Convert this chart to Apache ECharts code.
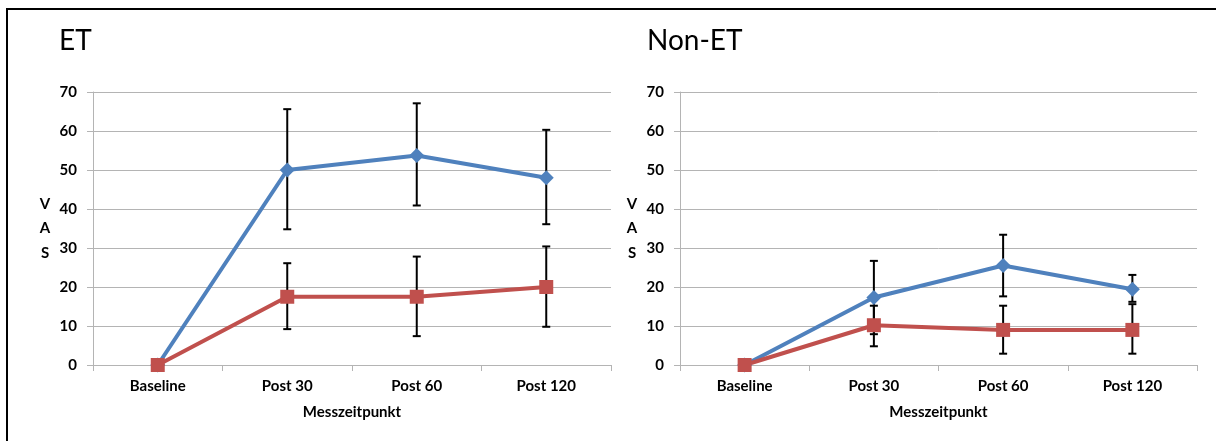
<!DOCTYPE html>
<html>
<head>
<meta charset="utf-8">
<script src="https://cdn.jsdelivr.net/npm/echarts@6/dist/echarts.min.js"></script>
<style>
  html, body { margin: 0; padding: 0; background: #fff; }
  #chart { width: 1216px; height: 441px; }
</style>
</head>
<body>
<div id="chart"></div>
<script>
const categories = ["Baseline", "Post 30", "Post 60", "Post 120"];
const yTicks = [0, 10, 20, 30, 40, 50, 60, 70];

// ET panel
const etBlue = [0, 50, 53.7, 48];
const etBlueLow = [null, 34.8, 40.9, 36.1];
const etBlueHigh = [null, 65.6, 67.1, 60.3];
const etRed = [0, 17.5, 17.5, 20];
const etRedLow = [null, 9.2, 7.4, 9.8];
const etRedHigh = [null, 26.1, 27.8, 30.4];

// Non-ET panel
const nonBlue = [0, 17.3, 25.5, 19.4];
const nonBlueLow = [null, 7.9, 17.6, 16.2];
const nonBlueHigh = [null, 26.7, 33.4, 23.1];
const nonRed = [0, 10.2, 9.0, 9.0];
const nonRedLow = [null, 4.8, 2.9, 2.9];
const nonRedHigh = [null, 15.2, 15.2, 15.6];

const FONT = "Lato";
const BLUE = "#4F81BD";
const RED = "#C0504D";
const GRID_GREY = "#B4B4B4";

function errorBars(low, high, axisIdx) {
  const data = [];
  low.forEach((lo, i) => {
    if (lo != null) data.push([i, lo, high[i]]);
  });
  return {
    type: "custom",
    xAxisIndex: axisIdx,
    yAxisIndex: axisIdx,
    z: 1,
    silent: true,
    data,
    renderItem(params, api) {
      const x = api.value(0);
      const top = api.coord([x, api.value(2)]);
      const bot = api.coord([x, api.value(1)]);
      const w = 4;
      const style = { stroke: "#000", lineWidth: 2 };
      return {
        type: "group",
        children: [
          { type: "line", shape: { x1: top[0], y1: top[1], x2: bot[0], y2: bot[1] }, style },
          { type: "line", shape: { x1: top[0] - w, y1: top[1], x2: top[0] + w, y2: top[1] }, style },
          { type: "line", shape: { x1: bot[0] - w, y1: bot[1], x2: bot[0] + w, y2: bot[1] }, style },
        ],
      };
    },
  };
}

function lineSeries(values, color, symbol, size, axisIdx) {
  return {
    type: "line",
    xAxisIndex: axisIdx,
    yAxisIndex: axisIdx,
    data: values,
    z: 3,
    symbol,
    symbolSize: size,
    showAllSymbol: true,
    lineStyle: { color, width: 4 },
    itemStyle: { color },
  };
}

function xAxis(gridIndex) {
  return {
    type: "category",
    gridIndex,
    data: categories,
    boundaryGap: true,
    name: "Messzeitpunkt",
    nameLocation: "middle",
    nameGap: 40,
    nameTextStyle: { fontFamily: FONT, fontSize: 15, fontWeight: "bold", color: "#000" },
    axisLine: { lineStyle: { color: GRID_GREY, width: 1 } },
    axisTick: { show: true, length: 6, lineStyle: { color: GRID_GREY } },
    axisLabel: { fontFamily: FONT, fontSize: 15, fontWeight: "bold", color: "#000", margin: 14 },
  };
}

function yAxis(gridIndex) {
  return {
    type: "value",
    gridIndex,
    min: yTicks[0],
    max: yTicks[yTicks.length - 1],
    interval: 10,
    name: "V\nA\nS",
    nameLocation: "middle",
    nameRotate: 0,
    nameGap: 48,
    nameTextStyle: { fontFamily: FONT, fontSize: 15, fontWeight: "bold", color: "#000", lineHeight: 24.5, align: "center" },
    axisLine: { show: true, lineStyle: { color: GRID_GREY, width: 1 } },
    axisTick: { show: true, length: 6, lineStyle: { color: GRID_GREY } },
    axisLabel: { fontFamily: FONT, fontSize: 15, fontWeight: "bold", color: "#000", margin: 16 },
    splitLine: { lineStyle: { color: GRID_GREY, width: 1 } },
  };
}

const chart = echarts.init(document.getElementById("chart"));
chart.setOption({
  backgroundColor: "#fff",
  animation: false,
  title: [
    { text: "ET", left: 54, top: 22, textStyle: { fontFamily: FONT, fontSize: 28, fontWeight: "normal", color: "#000" } },
    { text: "Non-ET", left: 642, top: 22, textStyle: { fontFamily: FONT, fontSize: 28, fontWeight: "normal", color: "#000" } },
  ],
  graphic: [
    {
      type: "rect",
      shape: { x: 7, y: 9, width: 1230, height: 460 },
      style: { fill: null, stroke: "#000", lineWidth: 2 },
      silent: true,
    },
  ],
  grid: [
    { left: 93, right: 605, top: 92, bottom: 76 },
    { left: 680, right: 19, top: 92, bottom: 76 },
  ],
  xAxis: [xAxis(0), xAxis(1)],
  yAxis: [yAxis(0), yAxis(1)],
  series: [
    errorBars(etBlueLow, etBlueHigh, 0),
    errorBars(etRedLow, etRedHigh, 0),
    lineSeries(etBlue, BLUE, "diamond", 15, 0),
    lineSeries(etRed, RED, "rect", 14, 0),
    errorBars(nonBlueLow, nonBlueHigh, 1),
    errorBars(nonRedLow, nonRedHigh, 1),
    lineSeries(nonBlue, BLUE, "diamond", 15, 1),
    lineSeries(nonRed, RED, "rect", 14, 1),
  ],
});
</script>
</body>
</html>
